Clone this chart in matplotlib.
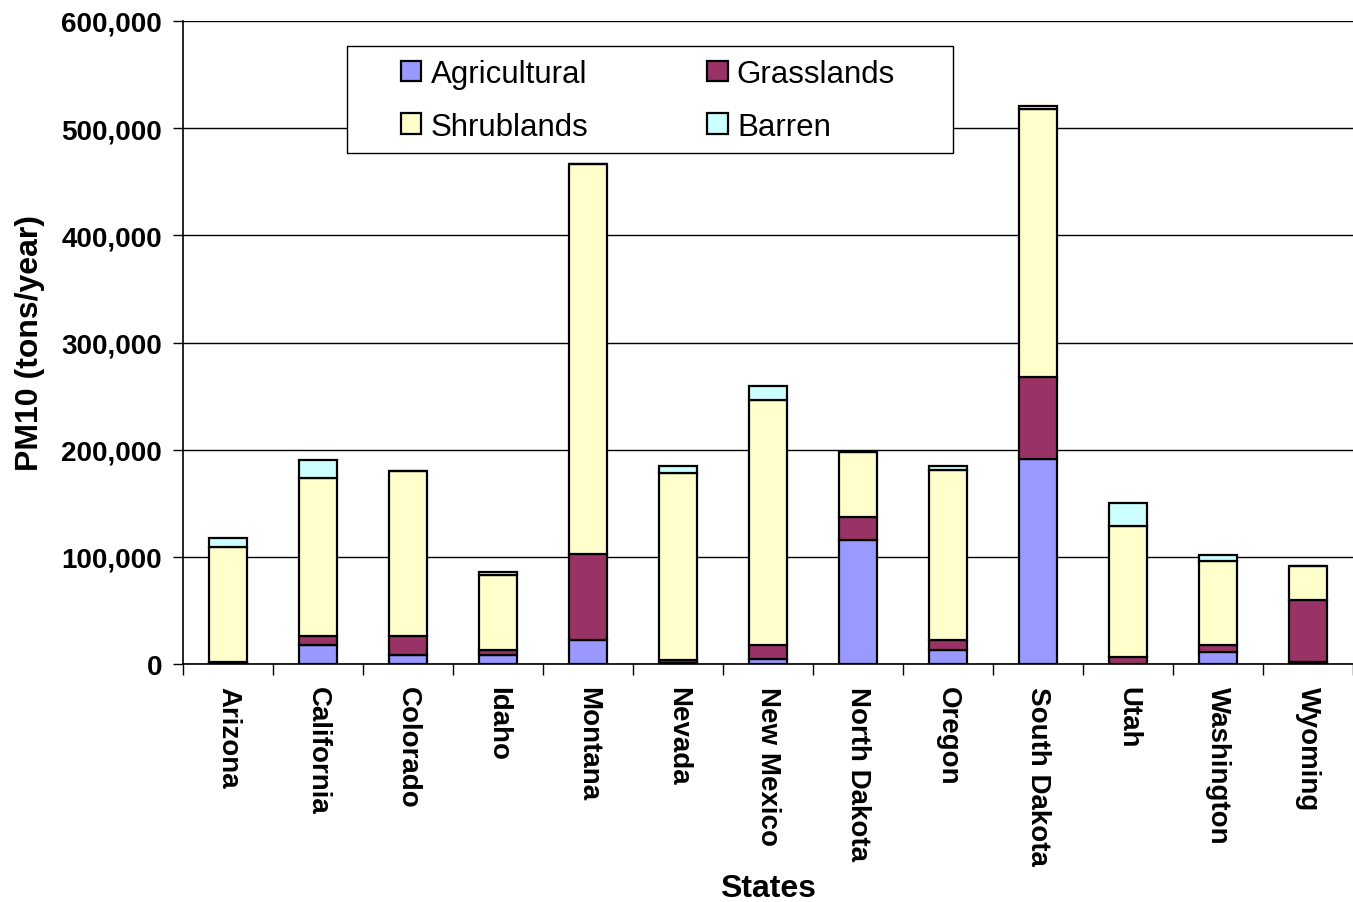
import numpy as np
import matplotlib
matplotlib.use("Agg")
import matplotlib.pyplot as plt
from matplotlib.patches import Rectangle
from matplotlib.ticker import FuncFormatter, MultipleLocator

plt.rcParams['font.family'] = ['Liberation Sans', 'DejaVu Sans']

states = ["Arizona", "California", "Colorado", "Idaho", "Montana", "Nevada",
          "New Mexico", "North Dakota", "Oregon", "South Dakota", "Utah",
          "Washington", "Wyoming"]

# PM10 emissions by land cover type (tons/year)
agricultural = [500, 17700, 8700, 8400, 22700, 1000, 4700, 116000, 13000, 191300, 300, 11200, 1500]
grasslands = [1500, 8400, 17400, 5000, 80200, 2500, 13300, 21000, 9700, 76700, 6200, 6500, 58000]
shrublands = [107500, 147800, 154300, 70000, 363700, 175000, 228000, 60500, 158600, 249900, 122000, 78700, 32000]
barren = [8500, 16100, 0, 2000, 0, 6500, 13000, 0, 3700, 2800, 21500, 5000, 0]

series = [("Agricultural", agricultural, "#9999FF"),
          ("Grasslands", grasslands, "#993366"),
          ("Shrublands", shrublands, "#FFFFCC"),
          ("Barren", barren, "#CCFFFF")]

fig = plt.figure(figsize=(13.53, 9.03), dpi=100)
ax = fig.add_axes([183/1353, (903-665)/903, (1353-183)/1353, (665-22)/903])

x = np.arange(len(states))
bottom = np.zeros(len(states))
handles = {}
for name, vals, col in series:
    vals = np.array(vals, dtype=float)
    b = ax.bar(x, vals, 0.43, bottom=bottom, color=col, edgecolor='black',
               linewidth=1.6, label=name, zorder=3)
    handles[name] = b
    bottom += vals

ax.set_xlim(-0.5, len(states) - 0.5)
ax.set_ylim(0, 600000)
ax.yaxis.set_major_locator(MultipleLocator(100000))
ax.yaxis.set_major_formatter(FuncFormatter(lambda v, p: f"{int(v):,}"))
ax.grid(axis='y', color='black', linewidth=1.0, zorder=0)

ax.set_xticks(x)
ax.set_xticklabels(states, rotation=270, fontsize=20, fontweight='bold')
ax.set_xticks(np.arange(-0.5, len(states)), minor=True)
ax.tick_params(axis='x', which='major', length=0, pad=16)
ax.tick_params(axis='x', which='minor', length=8, width=1, direction='out')
ax.tick_params(axis='y', length=7, width=1, labelsize=20, pad=8)
for lbl in ax.get_yticklabels():
    lbl.set_fontweight('bold')

for s in ['top', 'right']:
    ax.spines[s].set_visible(False)
ax.spines['left'].set_linewidth(1.2)
ax.spines['bottom'].set_linewidth(1.2)

ax.set_xlabel("States", fontsize=23, fontweight='bold', labelpad=6)
ax.set_ylabel("PM10 (tons/year)", fontsize=23, fontweight='bold', labelpad=12)

# legend box drawn separately so the entries sit well inside it
box = Rectangle((347/1353, 1 - 154/903), (953-347)/1353, (154-47)/903,
                transform=fig.transFigure, facecolor='white', edgecolor='black',
                linewidth=1.0, zorder=4, clip_on=False)
ax.add_patch(box)
order = ["Agricultural", "Shrublands", "Grasslands", "Barren"]
leg = ax.legend([handles[n] for n in order], order, ncol=2, loc='upper left',
                bbox_to_anchor=(401/1353, 1 - 60/903), bbox_transform=fig.transFigure,
                fontsize=22.5, frameon=False,
                handlelength=0.65, handleheight=0.65, handletextpad=0.3,
                columnspacing=3.8, borderpad=0, labelspacing=0.72,
                borderaxespad=0)
leg.set_zorder(5)

fig.savefig("out.png", dpi=100)
